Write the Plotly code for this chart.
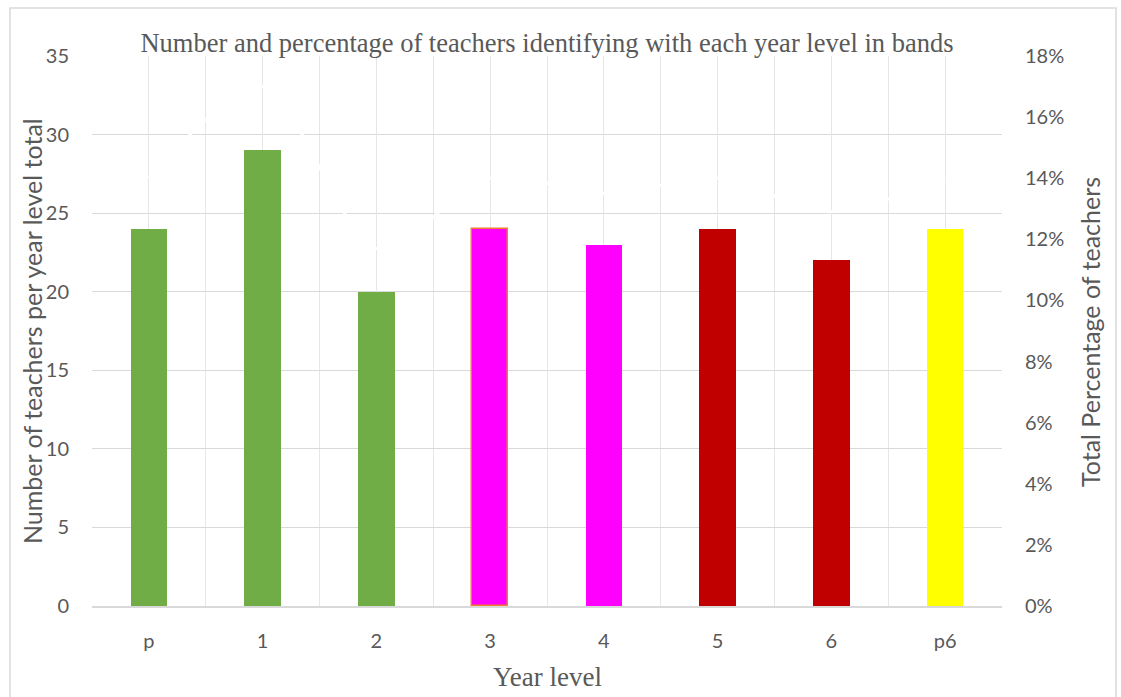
import plotly.graph_objects as go

# Year levels and the number of teachers who identify with each one
year_levels = ["p", "1", "2", "3", "4", "5", "6", "p6"]
teacher_counts = [24, 29, 20, 24, 23, 24, 22, 24]
# Share of all teachers (percent) for each year level
teacher_percent = [14.0, 17.0, 11.7, 14.0, 13.5, 14.0, 12.9, 14.0]
# Band colour for each year level
band_colors = ["#70AD47", "#70AD47", "#70AD47", "#FF00FF", "#FF00FF",
               "#C00000", "#C00000", "#FFFF00"]
band_outline = ["rgba(0,0,0,0)"] * 3 + ["#ED7D31"] + ["rgba(0,0,0,0)"] * 4
band_outline_w = [0, 0, 0, 1.5, 0, 0, 0, 0]

left_ticks = list(range(0, 36, 5))
right_ticks = list(range(0, 19, 2))
right_tick_text = [f"{v}%" for v in right_ticks]

SANS = "Lato, 'Open Sans', sans-serif"
TICK_FONT = dict(family=SANS, size=20, color="#595959")
SERIF = "'Liberation Serif', 'Times New Roman', serif"

fig = go.Figure()

fig.add_trace(go.Bar(
    x=year_levels, y=teacher_counts,
    marker=dict(color=band_colors,
                line=dict(color=band_outline, width=band_outline_w)),
    width=0.32, xaxis="x", yaxis="y", showlegend=False,
))

# Percentage series drawn as a smoothed white line on the secondary axis
fig.add_trace(go.Scatter(
    x=year_levels, y=teacher_percent, mode="lines",
    line=dict(color="white", width=3, shape="spline", smoothing=0.8),
    xaxis="x2", yaxis="y2", showlegend=False, hoverinfo="skip",
))

W, H = 1121, 697
L, R, T, B = 92, 1002, 56, 606
pw, ph = R - L, B - T

def px_x(v):
    return (v - L) / pw

def px_y(v):
    return (B - v) / ph

fig.update_layout(
    width=W, height=H,
    margin=dict(l=L, r=W - R, t=T, b=H - B),
    paper_bgcolor="white", plot_bgcolor="white",
    title=dict(text="Number and percentage of teachers identifying with each year level in bands",
               font=dict(family=SERIF, size=26.5, color="#595959"),
               x=0.5, xref="paper", xanchor="center",
               y=1 - 43 / H, yref="container", yanchor="middle"),
    xaxis=dict(
        type="category", categoryorder="array", categoryarray=year_levels,
        range=[-0.5, len(year_levels) - 0.5],
        tickson="boundaries", showgrid=True, gridcolor="#E6E6E6", gridwidth=1.3,
        showline=True, linecolor="#D9D9D9", linewidth=2,
        ticks="", tickfont=TICK_FONT, ticklabelstandoff=16,
        zeroline=False,
    ),
    xaxis2=dict(
        type="category", categoryorder="array", categoryarray=year_levels,
        range=[-0.5, len(year_levels) - 0.5],
        overlaying="x",
        showgrid=True, gridcolor="#E6E6E6", gridwidth=1.3,
        showticklabels=False, ticks="", showline=False, zeroline=False,
    ),
    yaxis=dict(
        range=[0, 35], tickvals=left_ticks,
        showgrid=True, gridcolor="#D9D9D9", gridwidth=1.3,
        zeroline=False, showline=False, ticks="",
        tickfont=TICK_FONT, ticklabelstandoff=22,
    ),
    yaxis2=dict(
        range=[0, 18], tickvals=right_ticks, ticktext=right_tick_text,
        overlaying="y", side="right",
        showgrid=False, zeroline=False, showline=False, ticks="",
        tickfont=TICK_FONT, ticklabelstandoff=22,
    ),
    bargap=0,
)

# Axis titles
fig.add_annotation(text="Number of teachers per year level total",
                   xref="paper", yref="paper", x=px_x(32), y=px_y(331),
                   xanchor="center", yanchor="middle",
                   textangle=-90, showarrow=False,
                   font=dict(family=SANS, size=25, color="#595959"))
fig.add_annotation(text="Total Percentage of teachers",
                   xref="paper", yref="paper", x=px_x(1090), y=px_y(332),
                   xanchor="center", yanchor="middle",
                   textangle=-90, showarrow=False,
                   font=dict(family=SANS, size=25, color="#595959"))
fig.add_annotation(text="Year level",
                   xref="paper", yref="paper", x=px_x(547), y=px_y(677),
                   xanchor="center", yanchor="middle",
                   showarrow=False,
                   font=dict(family=SERIF, size=27, color="#595959"))

# Chart area frame
fig.add_shape(type="rect", xref="paper", yref="paper", layer="below",
              x0=px_x(10), x1=px_x(1116), y0=px_y(700), y1=px_y(8),
              line=dict(color="#D9D9D9", width=1.5), fillcolor="rgba(0,0,0,0)")

fig.write_html("out.html")
